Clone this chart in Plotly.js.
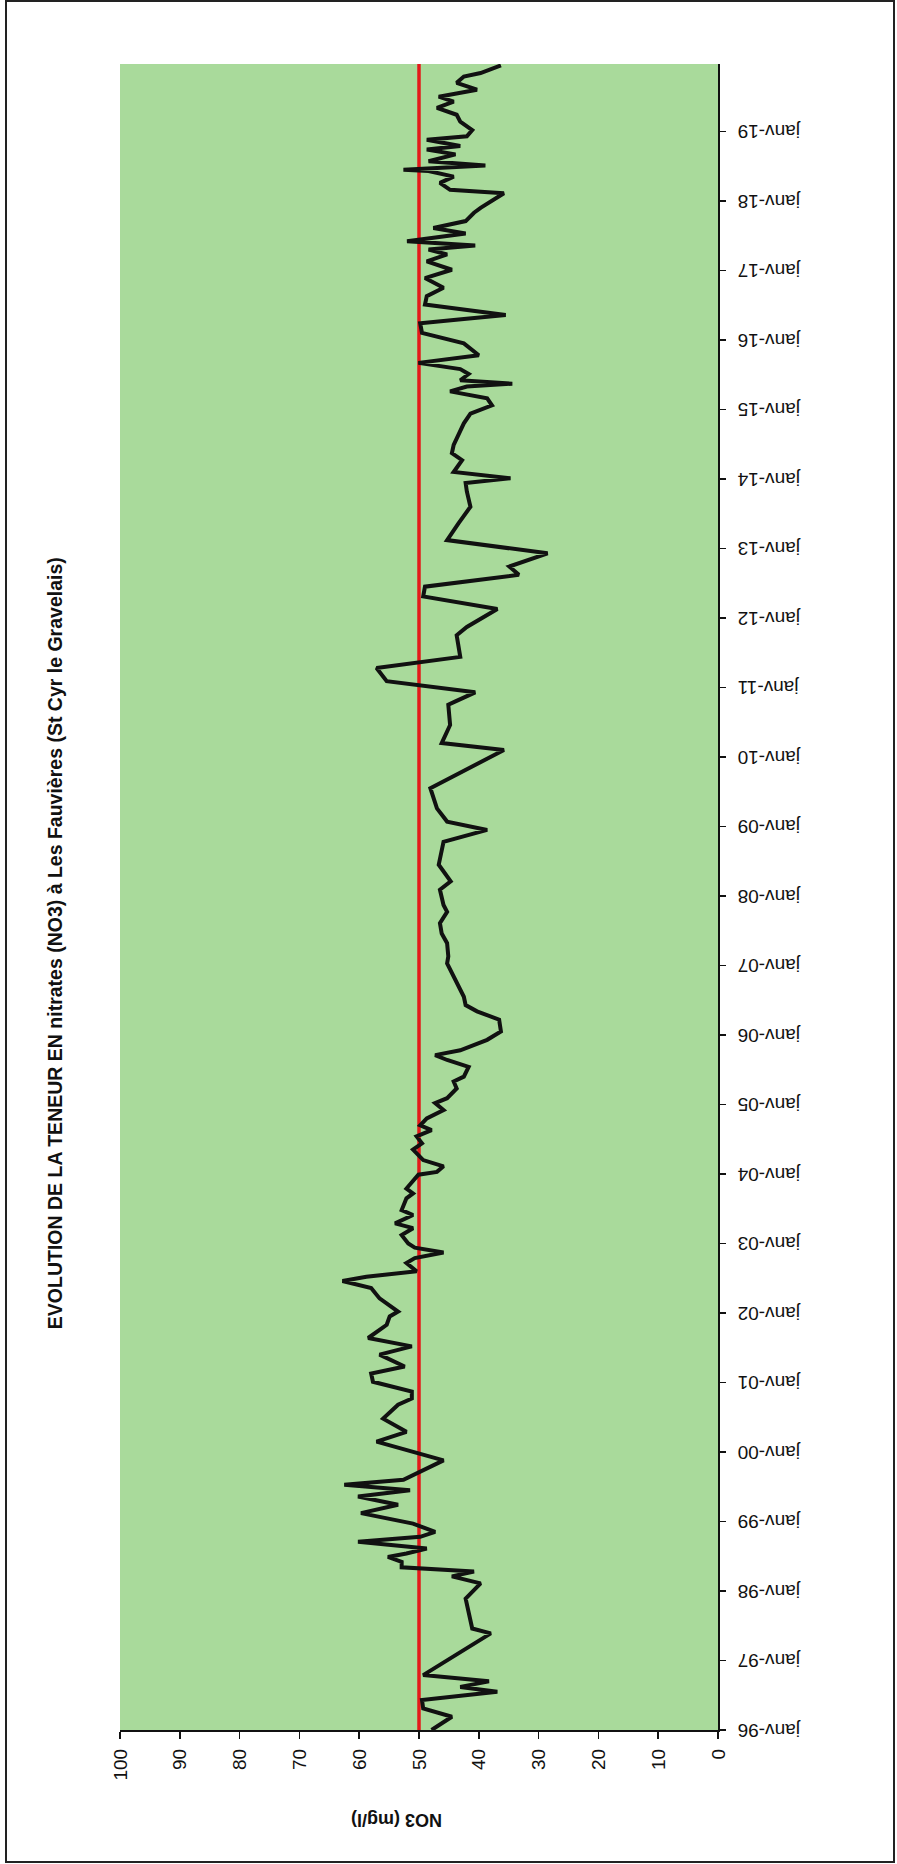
<!DOCTYPE html>
<html>
<head>
<meta charset="utf-8">
<script src="https://cdn.plot.ly/plotly-3.0.1.min.js"></script>
<style>
  html, body { margin: 0; padding: 0; background: #ffffff; overflow: hidden; }
  body { width: 897px; height: 1864px; position: relative; }
  #wrap {
    position: absolute; left: 0; top: 0;
    width: 1864px; height: 897px;
    transform-origin: 0 0;
    transform: translateY(1864px) rotate(-90deg);
  }
  #frame {
    position: absolute; left: 5px; top: 0px; width: 886px; height: 1859px;
    border: 2px solid #222; pointer-events: none;
  }
</style>
</head>
<body>
<div id="wrap"><div id="chart" style="width:1864px;height:897px;"></div></div>
<div id="frame"></div>
<script>
// Sampling dates (decimal years)
var dates = [
  1996.00, 1996.19, 1996.31, 1996.43, 1996.55, 1996.62, 1996.70, 1996.79, 1997.39, 1997.46,
  1997.89, 1998.11, 1998.21, 1998.28, 1998.34, 1998.42, 1998.49, 1998.54, 1998.61, 1998.71,
  1998.78, 1998.85, 1998.97, 1999.12, 1999.24, 1999.36, 1999.45, 1999.53, 1999.60, 1999.72,
  1999.88, 2000.15, 2000.29, 2000.48, 2000.68, 2000.77, 2000.87, 2001.01, 2001.13, 2001.23,
  2001.40, 2001.52, 2001.64, 2001.83, 2001.95, 2002.02, 2002.21, 2002.36, 2002.46, 2002.52,
  2002.60, 2002.72, 2002.79, 2002.87, 2002.94, 2003.00, 2003.12, 2003.22, 2003.29, 2003.41,
  2003.48, 2003.65, 2003.72, 2003.79, 2003.99, 2004.03, 2004.11, 2004.20, 2004.35, 2004.44,
  2004.54, 2004.63, 2004.70, 2004.80, 2004.92, 2005.02, 2005.09, 2005.23, 2005.33, 2005.40,
  2005.54, 2005.64, 2005.71, 2005.78, 2005.93, 2006.05, 2006.22, 2006.34, 2006.43, 2006.55,
  2006.70, 2007.03, 2007.13, 2007.32, 2007.46, 2007.61, 2007.77, 2007.87, 2008.09, 2008.21,
  2008.45, 2008.78, 2008.95, 2009.07, 2009.26, 2009.55, 2010.10, 2010.20, 2010.46, 2010.75,
  2010.80, 2010.93, 2011.09, 2011.28, 2011.44, 2011.75, 2011.87, 2012.13, 2012.31, 2012.45,
  2012.62, 2012.74, 2012.93, 2013.12, 2013.36, 2013.60, 2013.82, 2013.94, 2014.01, 2014.10,
  2014.27, 2014.37, 2014.49, 2014.58, 2014.80, 2014.94, 2015.06, 2015.16, 2015.26, 2015.33,
  2015.37, 2015.42, 2015.51, 2015.58, 2015.67, 2015.78, 2015.95, 2016.10, 2016.24, 2016.30,
  2016.36, 2016.51, 2016.63, 2016.75, 2016.89, 2017.01, 2017.13, 2017.23, 2017.30, 2017.36,
  2017.42, 2017.53, 2017.61, 2017.71, 2017.83, 2017.90, 2018.11, 2018.16, 2018.26, 2018.35,
  2018.43, 2018.45, 2018.51, 2018.57, 2018.67, 2018.74, 2018.79, 2018.88, 2018.93, 2019.02,
  2019.14, 2019.24, 2019.34, 2019.43, 2019.50, 2019.60, 2019.70, 2019.79, 2019.84, 2019.95
];

// NO3 concentration (mg/l)
var no3 = [
  47.9, 44.5, 49.3, 49.5, 36.9, 43.1, 38.3, 49.3, 38.0, 41.1,
  42.2, 39.7, 44.5, 40.8, 52.9, 52.9, 55.2, 52.1, 48.7, 60.2,
  49.8, 47.3, 51.0, 59.7, 53.5, 60.2, 51.5, 62.5, 52.6, 49.8,
  45.9, 57.1, 52.1, 56.0, 53.5, 51.2, 51.2, 57.7, 58.0, 52.4,
  56.6, 51.2, 58.5, 55.4, 54.9, 53.5, 56.6, 58.0, 62.8, 58.8,
  50.4, 52.1, 50.7, 45.9, 50.7, 51.8, 52.9, 51.0, 54.0, 51.0,
  52.9, 52.1, 51.0, 52.1, 50.1, 47.0, 45.9, 49.3, 51.0, 49.5,
  50.4, 47.9, 49.8, 48.7, 45.9, 47.3, 45.3, 43.7, 44.2, 42.5,
  41.7, 45.3, 47.3, 43.1, 38.6, 36.3, 36.6, 40.3, 42.2, 42.5,
  43.4, 45.3, 45.1, 45.3, 46.2, 46.5, 45.3, 45.9, 46.5, 44.7,
  46.7, 45.9, 38.6, 45.3, 47.0, 48.1, 35.8, 46.2, 44.8, 45.1,
  43.9, 40.6, 55.4, 57.1, 43.1, 43.7, 42.0, 36.9, 49.3, 49.0,
  33.3, 34.9, 28.5, 45.3, 43.4, 41.4, 42.0, 42.2, 34.7, 44.2,
  42.8, 44.5, 44.2, 43.7, 42.5, 41.4, 37.8, 38.6, 44.8, 42.0,
  34.4, 43.1, 41.7, 43.1, 50.1, 40.0, 42.5, 49.5, 49.8, 42.5,
  35.5, 49.0, 48.7, 45.9, 49.0, 44.5, 48.7, 45.3, 48.4, 40.6,
  52.0, 42.2, 47.6, 42.2, 40.8, 39.7, 35.8, 44.8, 46.5, 44.2,
  48.4, 52.6, 38.9, 48.4, 43.9, 48.7, 43.1, 48.7, 42.0, 41.1,
  43.1, 43.7, 47.0, 44.2, 46.7, 40.3, 43.7, 42.5, 39.7, 36.3
];

// Limit value (norme) line
var limitValue = 50;
var axisStart = 1996.0;
var axisEnd = 2019.97;

// Tick labels for the date axis
var tickYears = [1996, 1997, 1998, 1999, 2000, 2001, 2002, 2003, 2004, 2005, 2006, 2007,
                 2008, 2009, 2010, 2011, 2012, 2013, 2014, 2015, 2016, 2017, 2018, 2019];
var tickLabels = ['janv-96', 'janv-97', 'janv-98', 'janv-99', 'janv-00', 'janv-01', 'janv-02',
                  'janv-03', 'janv-04', 'janv-05', 'janv-06', 'janv-07', 'janv-08', 'janv-09',
                  'janv-10', 'janv-11', 'janv-12', 'janv-13', 'janv-14', 'janv-15', 'janv-16',
                  'janv-17', 'janv-18', 'janv-19'];

var titleText = 'EVOLUTION DE LA TENEUR EN nitrates (NO3) à Les Fauvières (St Cyr le Gravelais)';
var yTitleText = 'NO3 (mg/l)';

var FONT = 'Liberation Sans, Arial, sans-serif';

var traces = [
  {
    x: [axisStart, axisEnd], y: [limitValue, limitValue],
    type: 'scatter', mode: 'lines',
    line: { color: '#e41a1a', width: 3.5 },
    hoverinfo: 'skip', showlegend: false
  },
  {
    x: dates, y: no3,
    type: 'scatter', mode: 'lines',
    line: { color: '#111111', width: 4 },
    showlegend: false
  }
];

var layout = {
  width: 1864, height: 897,
  margin: { l: 134, r: 64, t: 120, b: 179 },
  paper_bgcolor: '#ffffff',
  plot_bgcolor: '#a9da9b',
  showlegend: false,
  title: {
    text: '<b>' + titleText + '</b>',
    font: { family: FONT, size: 19.5, color: '#111' },
    xref: 'container', x: 0.494, xanchor: 'center',
    yref: 'container', y: 1 - 55 / 897, yanchor: 'middle'
  },
  xaxis: {
    type: 'linear',
    range: [axisStart, axisEnd],
    tickmode: 'array', tickvals: tickYears, ticktext: tickLabels,
    tickangle: -90,
    ticks: 'outside', ticklen: 6, tickwidth: 1.5, tickcolor: '#111',
    ticklabelstandoff: 4,
    showline: true, linecolor: '#111', linewidth: 2,
    showgrid: false, zeroline: false,
    tickfont: { family: FONT, size: 19, color: '#111' }
  },
  yaxis: {
    range: [0, 100],
    tickmode: 'linear', tick0: 0, dtick: 10,
    ticks: 'outside', ticklen: 7, tickwidth: 1.5, tickcolor: '#111',
    ticklabelstandoff: 6,
    showline: true, linecolor: '#111', linewidth: 2,
    showgrid: false, zeroline: false,
    tickfont: { family: FONT, size: 19, color: '#111' }
  },
  annotations: [
    {
      text: '<b>' + yTitleText + '</b>',
      xref: 'paper', yref: 'paper',
      x: (44 - 134) / 1666, y: 1 - (397 - 120) / 598,
      xanchor: 'center', yanchor: 'middle',
      textangle: -90, showarrow: false,
      font: { family: FONT, size: 18, color: '#111' }
    }
  ]
};

Plotly.newPlot('chart', traces, layout, { staticPlot: true, displayModeBar: false });
</script>
</body>
</html>
